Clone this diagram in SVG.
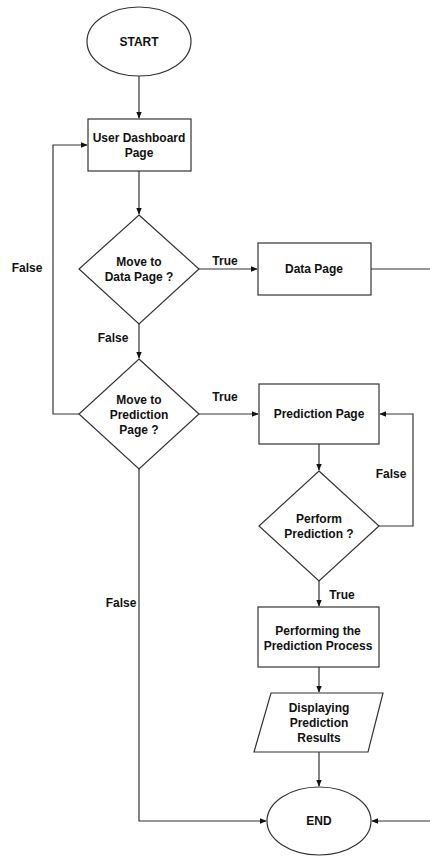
<svg xmlns="http://www.w3.org/2000/svg" width="430" height="857" viewBox="0 0 430 857">
<defs>
<style>
.s{fill:#fff;stroke:#333;stroke-width:1.2}
.c{fill:none;stroke:#333;stroke-width:1.2}
text{font-family:"Liberation Sans",Arial,sans-serif;font-size:12px;font-weight:bold;fill:#111;text-anchor:middle}
</style>
<marker id="a" viewBox="0 0 10 10" refX="9" refY="5" markerWidth="7" markerHeight="7" orient="auto" markerUnits="userSpaceOnUse"><path d="M0,1 L10,5 L0,9 Z" fill="#111"/></marker>
</defs>
<rect width="430" height="857" fill="#fff"/>
<g id="connectors">
<path class="c" d="M139,76 V118" marker-end="url(#a)"/>
<path class="c" d="M139,171 V214" marker-end="url(#a)"/>
<path class="c" d="M199,269 H257" marker-end="url(#a)"/>
<path class="c" d="M371,269 H430"/>
<path class="c" d="M139,324 V358" marker-end="url(#a)"/>
<path class="c" d="M79,414 H53 V145 H87" marker-end="url(#a)"/>
<path class="c" d="M199,414 H258" marker-end="url(#a)"/>
<path class="c" d="M319,444 V470" marker-end="url(#a)"/>
<path class="c" d="M379,526 H413 V414 H380" marker-end="url(#a)"/>
<path class="c" d="M319,581 V606" marker-end="url(#a)"/>
<path class="c" d="M319,667 V692" marker-end="url(#a)"/>
<path class="c" d="M319,752 V786" marker-end="url(#a)"/>
<path class="c" d="M139,469 V821 H266" marker-end="url(#a)"/>
<path class="c" d="M430,821 H372" marker-end="url(#a)"/>
<text x="225" y="265">True</text>
<text x="113" y="342">False</text>
<text x="27" y="272">False</text>
<text x="225" y="401">True</text>
<text x="391" y="478">False</text>
<text x="342" y="599">True</text>
<text x="121" y="607">False</text>
</g>
<g id="start"><ellipse class="s" cx="139" cy="41.5" rx="52" ry="34.5"/><text x="139" y="46">START</text></g>
<g id="dashboard"><rect class="s" x="88" y="119" width="103" height="52"/><text x="139" y="142">User Dashboard</text><text x="139" y="157">Page</text></g>
<g id="dec-data"><polygon class="s" points="139,215 199,269 139,324 79,269"/><text x="139" y="266">Move to</text><text x="139" y="281">Data Page ?</text></g>
<g id="data-page"><rect class="s" x="258" y="243" width="113" height="52"/><text x="314" y="273">Data Page</text></g>
<g id="dec-pred"><polygon class="s" points="139,359 199,414 139,469 79,414"/><text x="139" y="404">Move to</text><text x="139" y="419">Prediction</text><text x="139" y="434">Page ?</text></g>
<g id="pred-page"><rect class="s" x="259" y="384" width="120" height="60"/><text x="319" y="418">Prediction Page</text></g>
<g id="dec-perform"><polygon class="s" points="319,471 379,526 319,581 259,526"/><text x="319" y="523">Perform</text><text x="319" y="538">Prediction ?</text></g>
<g id="performing"><rect class="s" x="258" y="607" width="121" height="60"/><text x="318" y="635">Performing the</text><text x="318" y="650">Prediction Process</text></g>
<g id="display"><polygon class="s" points="271,693 383,693 368,752 254,752"/><text x="319" y="712">Displaying</text><text x="319" y="727">Prediction</text><text x="319" y="742">Results</text></g>
<g id="end"><ellipse class="s" cx="319" cy="821" rx="52" ry="34"/><text x="319" y="825">END</text></g>
</svg>
